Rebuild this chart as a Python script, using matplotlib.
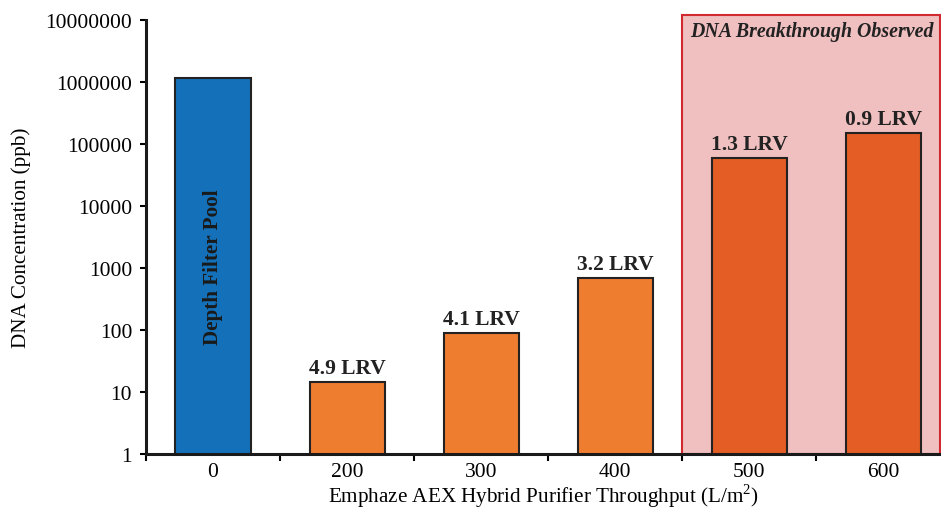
import numpy as np
import matplotlib
matplotlib.use("Agg")
import matplotlib.pyplot as plt
from matplotlib.patches import Rectangle
from matplotlib.ticker import FixedLocator, FuncFormatter, NullLocator

# data
categories = ["0", "200", "300", "400", "500", "600"]
dna_ppb = [1160000, 14.5, 90, 690, 59500, 150000]
lrv_labels = ["", "4.9 LRV", "4.1 LRV", "3.2 LRV", "1.3 LRV", "0.9 LRV"]
bar_colors = ["#1470b8", "#ef7d30", "#ef7d30", "#ef7d30", "#e35d24", "#e35d24"]

plt.rcParams["font.family"] = ["Liberation Serif", "DejaVu Serif"]
plt.rcParams["mathtext.fontset"] = "custom"
plt.rcParams["mathtext.rm"] = "Liberation Serif"

fig = plt.figure(figsize=(9.41, 5.10), dpi=100)
ax = fig.add_axes([146 / 941, 55 / 510, 795 / 941, 434 / 510])

x = np.arange(len(categories))
xmax = 5.43

# breakthrough region
ax.add_patch(Rectangle((3.5, 1), xmax - 3.5 - 0.01, 10 ** (7 + 5 / 62) - 1,
                       facecolor="#f0bfbf", edgecolor="#d02a30", lw=1.5,
                       clip_on=False, zorder=0))
ax.text((3.5 + xmax) / 2, 10 ** (7 - 11 / 62), "DNA Breakthrough Observed",
        ha="center", va="center", fontsize=14.3, fontweight="bold",
        fontstyle="italic", color="#222222", zorder=3)

ax.bar(x, dna_ppb, width=0.56, color=bar_colors, edgecolor="#222222",
       linewidth=1.5, zorder=2)

for xi, val, lab in zip(x, dna_ppb, lrv_labels):
    if lab:
        ax.annotate(lab, (xi, val), xytext=(0, 3), textcoords="offset points",
                    ha="center", va="bottom", fontsize=15.5, fontweight="bold",
                    color="#222222")

ax.text(0, 10 ** 3.03, "Depth Filter Pool", rotation=90, ha="center",
        va="center", fontsize=15.2, fontweight="bold", color="#1a1a1a", zorder=3)

ax.set_yscale("log")
ax.set_ylim(1, 1e7)
ax.set_xlim(-0.5, xmax)
ax.yaxis.set_major_locator(FixedLocator([10 ** k for k in range(8)]))
ax.yaxis.set_minor_locator(NullLocator())
ax.yaxis.set_major_formatter(FuncFormatter(lambda v, p: f"{int(round(v))}"))

ax.set_xticks(x)
ax.set_xticklabels(categories)
ax.set_xticks(np.arange(-0.5, 4.6, 1), minor=True)
ax.tick_params(axis="x", which="major", length=0, pad=6, labelsize=15.5)
ax.tick_params(axis="x", which="minor", length=5, width=1.5)
ax.tick_params(axis="y", which="major", length=4, width=1.5, labelsize=15.5,
               pad=6)

for side in ["top", "right"]:
    ax.spines[side].set_visible(False)
for side in ["left", "bottom"]:
    ax.spines[side].set_linewidth(2.2)
    ax.spines[side].set_color("#1a1a1a")

ax.set_ylabel("DNA Concentration (ppb)", fontsize=15.2, labelpad=10)
ax.set_xlabel("Emphaze AEX Hybrid Purifier Throughput (L/m$^2$)", fontsize=15.2,
              labelpad=0)

fig.savefig("out.png", dpi=100)
